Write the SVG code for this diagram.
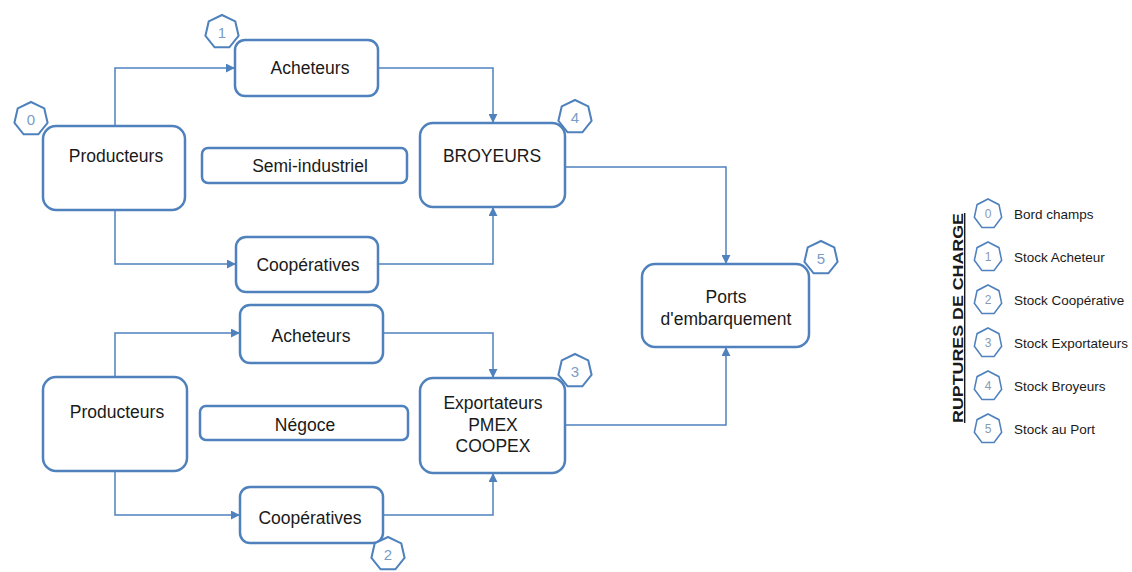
<svg xmlns="http://www.w3.org/2000/svg" xmlns:xlink="http://www.w3.org/1999/xlink" width="1132" height="572" viewBox="0 0 1132 572">
<style>
.box{fill:#fff;stroke:#4f81bd;stroke-width:2.5}
.lbl{font-family:"Liberation Sans",Arial,sans-serif;font-size:17.5px;fill:#1a1a1a;text-anchor:middle}
.con{fill:none;stroke:#4f81bd;stroke-width:1.5}
.bdg{fill:#fff;stroke:#4f81bd;stroke-width:2}
.bnum{font-family:"Liberation Sans",Arial,sans-serif;font-size:15px;fill:#7a9cc6;text-anchor:middle}
.lnum{font-family:"Liberation Sans",Arial,sans-serif;font-size:12px;fill:#8a9ab0;text-anchor:middle}
.leg{font-family:"Liberation Sans",Arial,sans-serif;font-size:13.5px;fill:#1a1a1a}
</style>
<defs>
<polygon id="hep" points="0,-1 0.7818,-0.6235 0.9749,0.2225 0.4339,0.901 -0.4339,0.901 -0.9749,0.2225 -0.7818,-0.6235"/>
<marker id="arr" viewBox="0 0 10 10" refX="9" refY="5" markerWidth="9" markerHeight="9" markerUnits="userSpaceOnUse" orient="auto">
<path d="M0,0 L10,5 L0,10 z" fill="#4f81bd"/>
</marker>
</defs>
<g id="connectors">
<path class="con" d="M115,126 V68 H234" marker-end="url(#arr)"/>
<path class="con" d="M115,210 V264 H235" marker-end="url(#arr)"/>
<path class="con" d="M378,68 H493 V122" marker-end="url(#arr)"/>
<path class="con" d="M378,264 H493 V208" marker-end="url(#arr)"/>
<path class="con" d="M565,167 H726 V263" marker-end="url(#arr)"/>
<path class="con" d="M115,377 V333 H239" marker-end="url(#arr)"/>
<path class="con" d="M115,471 V515 H239" marker-end="url(#arr)"/>
<path class="con" d="M383,333 H493 V377" marker-end="url(#arr)"/>
<path class="con" d="M383,515 H493 V474" marker-end="url(#arr)"/>
<path class="con" d="M565,425 H726 V348" marker-end="url(#arr)"/>
</g>
<g id="producteurs1"><rect class="box" x="43" y="126" width="142" height="84" rx="13"/><text class="lbl" x="116" y="162">Producteurs</text></g>
<g id="acheteurs1"><rect class="box" x="235" y="40" width="143" height="56" rx="10"/><text class="lbl" x="310" y="74">Acheteurs</text></g>
<g id="semi"><rect class="box" x="202" y="148" width="205" height="35" rx="6"/><text class="lbl" x="310" y="172">Semi-industriel</text></g>
<g id="coop1"><rect class="box" x="236" y="237" width="142" height="55" rx="10"/><text class="lbl" x="308" y="271">Coopératives</text></g>
<g id="broyeurs"><rect class="box" x="420" y="123" width="145" height="84" rx="13"/><text class="lbl" x="492" y="162">BROYEURS</text></g>
<g id="ports"><rect class="box" x="642" y="264" width="167" height="83" rx="13"/><text class="lbl" x="726" y="303">Ports</text><text class="lbl" x="726" y="325">d'embarquement</text></g>
<g id="producteurs2"><rect class="box" x="43" y="377" width="144" height="94" rx="13"/><text class="lbl" x="117" y="418">Producteurs</text></g>
<g id="acheteurs2"><rect class="box" x="240" y="305" width="143" height="58" rx="10"/><text class="lbl" x="311" y="342">Acheteurs</text></g>
<g id="negoce"><rect class="box" x="200" y="406" width="208" height="34" rx="6"/><text class="lbl" x="305" y="431">Négoce</text></g>
<g id="coop2"><rect class="box" x="240" y="487" width="143" height="56" rx="10"/><text class="lbl" x="310" y="524">Coopératives</text></g>
<g id="exportateurs"><rect class="box" x="420" y="378" width="145" height="95" rx="13"/><text class="lbl" x="493" y="409">Exportateurs</text><text class="lbl" x="493" y="431">PMEX</text><text class="lbl" x="493" y="452">COOPEX</text></g>
<g id="badges">
<use xlink:href="#hep" class="bdg" transform="translate(31,119) scale(17)" style="stroke-width:0.12"/><text class="bnum" x="31" y="125">0</text>
<use xlink:href="#hep" class="bdg" transform="translate(222,32) scale(17)" style="stroke-width:0.12"/><text class="bnum" x="222" y="38">1</text>
<use xlink:href="#hep" class="bdg" transform="translate(388,554) scale(17)" style="stroke-width:0.12"/><text class="bnum" x="388" y="560">2</text>
<use xlink:href="#hep" class="bdg" transform="translate(575,371) scale(17)" style="stroke-width:0.12"/><text class="bnum" x="575" y="377">3</text>
<use xlink:href="#hep" class="bdg" transform="translate(575,117) scale(17)" style="stroke-width:0.12"/><text class="bnum" x="575" y="123">4</text>
<use xlink:href="#hep" class="bdg" transform="translate(821,258) scale(17)" style="stroke-width:0.12"/><text class="bnum" x="821" y="264">5</text>
</g>
<g id="legend">
<text transform="translate(963,318) rotate(-90)" text-anchor="middle" font-family="Liberation Sans, Arial, sans-serif" font-size="14" font-weight="bold" text-decoration="underline" fill="#1a1a1a" textLength="210" lengthAdjust="spacingAndGlyphs">RUPTURES DE CHARGE</text>
<use xlink:href="#hep" class="bdg" transform="translate(988,214) scale(14,15)" style="stroke-width:0.11"/><text class="lnum" x="988" y="218">0</text><text class="leg" x="1014" y="219">Bord champs</text>
<use xlink:href="#hep" class="bdg" transform="translate(988,257) scale(14,15)" style="stroke-width:0.11"/><text class="lnum" x="988" y="261">1</text><text class="leg" x="1014" y="262">Stock Acheteur</text>
<use xlink:href="#hep" class="bdg" transform="translate(988,300) scale(14,15)" style="stroke-width:0.11"/><text class="lnum" x="988" y="304">2</text><text class="leg" x="1014" y="305">Stock Coopérative</text>
<use xlink:href="#hep" class="bdg" transform="translate(988,343) scale(14,15)" style="stroke-width:0.11"/><text class="lnum" x="988" y="347">3</text><text class="leg" x="1014" y="348">Stock Exportateurs</text>
<use xlink:href="#hep" class="bdg" transform="translate(988,386) scale(14,15)" style="stroke-width:0.11"/><text class="lnum" x="988" y="390">4</text><text class="leg" x="1014" y="391">Stock Broyeurs</text>
<use xlink:href="#hep" class="bdg" transform="translate(988,429) scale(14,15)" style="stroke-width:0.11"/><text class="lnum" x="988" y="433">5</text><text class="leg" x="1014" y="434">Stock au Port</text>
</g>
</svg>
